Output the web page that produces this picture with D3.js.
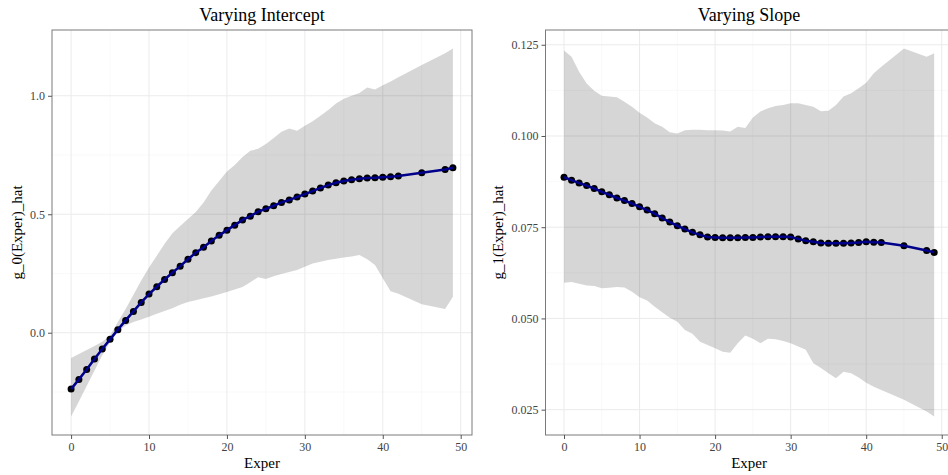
<!DOCTYPE html>
<meta charset="utf-8">
<style>

body {
  margin: 0;
  background: #fff;
}

svg text {
  font-family: "Liberation Serif", "Times New Roman", serif;
}

.grid-major {
  stroke: #ebebeb;
  stroke-width: 1;
}

.grid-minor {
  stroke: #f5f5f5;
  stroke-width: 0.6;
}

.band {
  fill: #000;
  fill-opacity: 0.16;
}

.fitline {
  fill: none;
  stroke: #00008b;
  stroke-width: 2.5;
}

.dot {
  fill: #000;
}

.frame {
  fill: none;
  stroke: #7a7a7a;
  stroke-width: 1;
}

.axis path {
  display: none;
}

.axis line {
  stroke: #555;
}

.axis text {
  fill: #444;
  font-size: 12px;
}

.ptitle {
  font-size: 18px;
  fill: #000;
}

.atitle {
  font-size: 15px;
  fill: #000;
}

</style>
<svg width="948" height="475"></svg>
<script src="https://cdn.jsdelivr.net/npm/d3@7"></script>
<script>

// values
var exper = [0, 1, 2, 3, 4, 5, 6, 7, 8, 9, 10, 11, 12, 13, 14, 15, 16, 17, 18, 19, 20,
  21, 22, 23, 24, 25, 26, 27, 28, 29, 30, 31, 32, 33, 34, 35, 36, 37, 38, 39, 40,
  41, 42, 45, 48, 49];

var g0Hat = [-0.238, -0.197, -0.155, -0.111, -0.069, -0.028, 0.013, 0.052, 0.090, 0.128, 0.163,
  0.194, 0.225, 0.253, 0.281, 0.310, 0.338, 0.361, 0.387, 0.411, 0.433,
  0.454, 0.476, 0.492, 0.511, 0.523, 0.536, 0.550, 0.560, 0.573, 0.585,
  0.598, 0.611, 0.623, 0.633, 0.640, 0.646, 0.650, 0.653, 0.654, 0.656,
  0.658, 0.661, 0.675, 0.689, 0.696];

var g0Upper = [-0.107, -0.090, -0.073, -0.056, -0.038, -0.012, 0.045, 0.100, 0.160, 0.220, 0.275,
  0.325, 0.375, 0.420, 0.450, 0.480, 0.510, 0.550, 0.600, 0.640, 0.680,
  0.708, 0.742, 0.768, 0.776, 0.797, 0.822, 0.848, 0.862, 0.852, 0.874,
  0.893, 0.916, 0.940, 0.967, 0.988, 1.000, 1.012, 1.035, 1.027, 1.045,
  1.060, 1.078, 1.130, 1.180, 1.200];

var g0Lower = [-0.354, -0.290, -0.225, -0.160, -0.095, -0.040, 0.005, 0.030, 0.045, 0.056, 0.067,
  0.080, 0.092, 0.103, 0.118, 0.130, 0.137, 0.145, 0.153, 0.162, 0.172,
  0.182, 0.193, 0.213, 0.234, 0.227, 0.238, 0.248, 0.256, 0.265, 0.278,
  0.292, 0.300, 0.307, 0.312, 0.317, 0.322, 0.328, 0.310, 0.286, 0.230,
  0.175, 0.165, 0.120, 0.100, 0.152];

var g1Hat = [0.0887, 0.0879, 0.0871, 0.0864, 0.0856, 0.0847, 0.0839, 0.0830, 0.0823, 0.0815, 0.0806,
  0.0797, 0.0787, 0.0775, 0.0764, 0.0754, 0.0745, 0.0736, 0.0729, 0.0723, 0.0722,
  0.0721, 0.0721, 0.0721, 0.0722, 0.0722, 0.0723, 0.0724, 0.0724, 0.0724, 0.0723,
  0.0718, 0.0713, 0.0710, 0.0707, 0.0706, 0.0706, 0.0706, 0.0707, 0.0708, 0.0710,
  0.0709, 0.0708, 0.0699, 0.0686, 0.0681];

var g1Upper = [0.1234, 0.1217, 0.1176, 0.1144, 0.1124, 0.1110, 0.1108, 0.1106, 0.1094, 0.1080, 0.1064,
  0.1051, 0.1035, 0.1025, 0.1010, 0.1007, 0.1016, 0.1017, 0.1017, 0.1016, 0.1016,
  0.1015, 0.1012, 0.1025, 0.1022, 0.1051, 0.1067, 0.1076, 0.1082, 0.1085, 0.1090,
  0.1090, 0.1085, 0.1080, 0.1068, 0.1069, 0.1085, 0.1108, 0.1117, 0.1131, 0.1146,
  0.1172, 0.1190, 0.1240, 0.1217, 0.1227];

var g1Lower = [0.0598, 0.0600, 0.0595, 0.0590, 0.0589, 0.0583, 0.0584, 0.0586, 0.0585, 0.0573, 0.0558,
  0.0549, 0.0532, 0.0517, 0.0502, 0.0491, 0.0468, 0.0458, 0.0436, 0.0427, 0.0418,
  0.0409, 0.0406, 0.0432, 0.0453, 0.0444, 0.0432, 0.0444, 0.0443, 0.0438, 0.0432,
  0.0423, 0.0414, 0.0377, 0.0364, 0.0350, 0.0336, 0.0354, 0.0350, 0.0338, 0.0324,
  0.0313, 0.0304, 0.0277, 0.0245, 0.0231];

var xTicks = [0, 10, 20, 30, 40, 50],
    xMinor = [5, 15, 25, 35, 45];

var y0Ticks = [0, 0.5, 1.0],
    y0Minor = [-0.25, 0.25, 0.75],
    y1Ticks = [0.025, 0.050, 0.075, 0.100, 0.125],
    y1Minor = [0.0375, 0.0625, 0.0875, 0.1125];

var svg = d3.select("svg");

function rows(hat, lo, hi) {
  return exper.map(function(e, i) {
    return {x: e, y: hat[i], lo: lo[i], hi: hi[i]};
  });
}

function panel(o) {
  var width = o.right - o.left,
      height = o.bottom - o.top;

  // ggplot style 5% expansion
  var xPad = (49 - 0) * 0.05,
      yMin = d3.min(o.data, function(d) { return Math.min(d.lo, d.y); }),
      yMax = d3.max(o.data, function(d) { return Math.max(d.hi, d.y); }),
      yPad = (yMax - yMin) * 0.05;

  var x = d3.scaleLinear().domain([0 - xPad, 49 + xPad]).range([0, width]),
      y = d3.scaleLinear().domain([yMin - yPad, yMax + yPad]).range([height, 0]);

  var g = svg.append("g")
      .attr("transform", "translate(" + o.left + "," + o.top + ")");

  g.selectAll(".gx-minor")
    .data(xMinor)
    .enter().append("line")
      .attr("class", "grid-minor")
      .attr("x1", function(d) { return x(d); })
      .attr("x2", function(d) { return x(d); })
      .attr("y1", 0)
      .attr("y2", height);

  g.selectAll(".gy-minor")
    .data(o.yMinor)
    .enter().append("line")
      .attr("class", "grid-minor")
      .attr("x1", 0)
      .attr("x2", width)
      .attr("y1", function(d) { return y(d); })
      .attr("y2", function(d) { return y(d); });

  g.selectAll(".gx-major")
    .data(xTicks)
    .enter().append("line")
      .attr("class", "grid-major")
      .attr("x1", function(d) { return x(d); })
      .attr("x2", function(d) { return x(d); })
      .attr("y1", 0)
      .attr("y2", height);

  g.selectAll(".gy-major")
    .data(o.yTicks)
    .enter().append("line")
      .attr("class", "grid-major")
      .attr("x1", 0)
      .attr("x2", width)
      .attr("y1", function(d) { return y(d); })
      .attr("y2", function(d) { return y(d); });

  var area = d3.area()
      .x(function(d) { return x(d.x); })
      .y0(function(d) { return y(d.lo); })
      .y1(function(d) { return y(d.hi); });

  g.append("path")
      .datum(o.data)
      .attr("class", "band")
      .attr("d", area);

  g.selectAll(".dot")
    .data(o.data)
    .enter().append("circle")
      .attr("class", "dot")
      .attr("cx", function(d) { return x(d.x); })
      .attr("cy", function(d) { return y(d.y); })
      .attr("r", 3.5);

  var line = d3.line()
      .x(function(d) { return x(d.x); })
      .y(function(d) { return y(d.y); });

  g.append("path")
      .datum(o.data)
      .attr("class", "fitline")
      .attr("d", line);

  g.append("rect")
      .attr("class", "frame")
      .attr("x", 0)
      .attr("y", 0)
      .attr("width", width)
      .attr("height", height);

  g.append("g")
      .attr("class", "axis axis--x")
      .attr("transform", "translate(0," + height + ")")
      .call(d3.axisBottom(x).tickValues(xTicks).tickSize(4).tickPadding(3).tickFormat(d3.format("d")));

  g.append("g")
      .attr("class", "axis axis--y")
      .call(d3.axisLeft(y).tickValues(o.yTicks).tickSize(4).tickPadding(3).tickFormat(d3.format(o.fmt)));

  g.append("text")
      .attr("class", "ptitle")
      .attr("x", width / 2)
      .attr("y", -9)
      .attr("text-anchor", "middle")
      .text(o.title);

  g.append("text")
      .attr("class", "atitle")
      .attr("x", width / 2)
      .attr("y", height + 33)
      .attr("text-anchor", "middle")
      .text("Exper");

  g.append("text")
      .attr("class", "atitle")
      .attr("transform", "rotate(-90)")
      .attr("x", -height / 2)
      .attr("y", o.ytitleX)
      .attr("text-anchor", "middle")
      .text(o.ylab);
}

panel({
  left: 52, right: 472, top: 30, bottom: 435,
  data: rows(g0Hat, g0Lower, g0Upper),
  yTicks: y0Ticks, yMinor: y0Minor, fmt: ".1f",
  title: "Varying Intercept", ylab: "g_0(Exper)_hat", ytitleX: -30
});

panel({
  left: 545.5, right: 952.7, top: 30, bottom: 435,
  data: rows(g1Hat, g1Lower, g1Upper),
  yTicks: y1Ticks, yMinor: y1Minor, fmt: ".3f",
  title: "Varying Slope", ylab: "g_1(Exper)_hat", ytitleX: -42.5
});

</script>
